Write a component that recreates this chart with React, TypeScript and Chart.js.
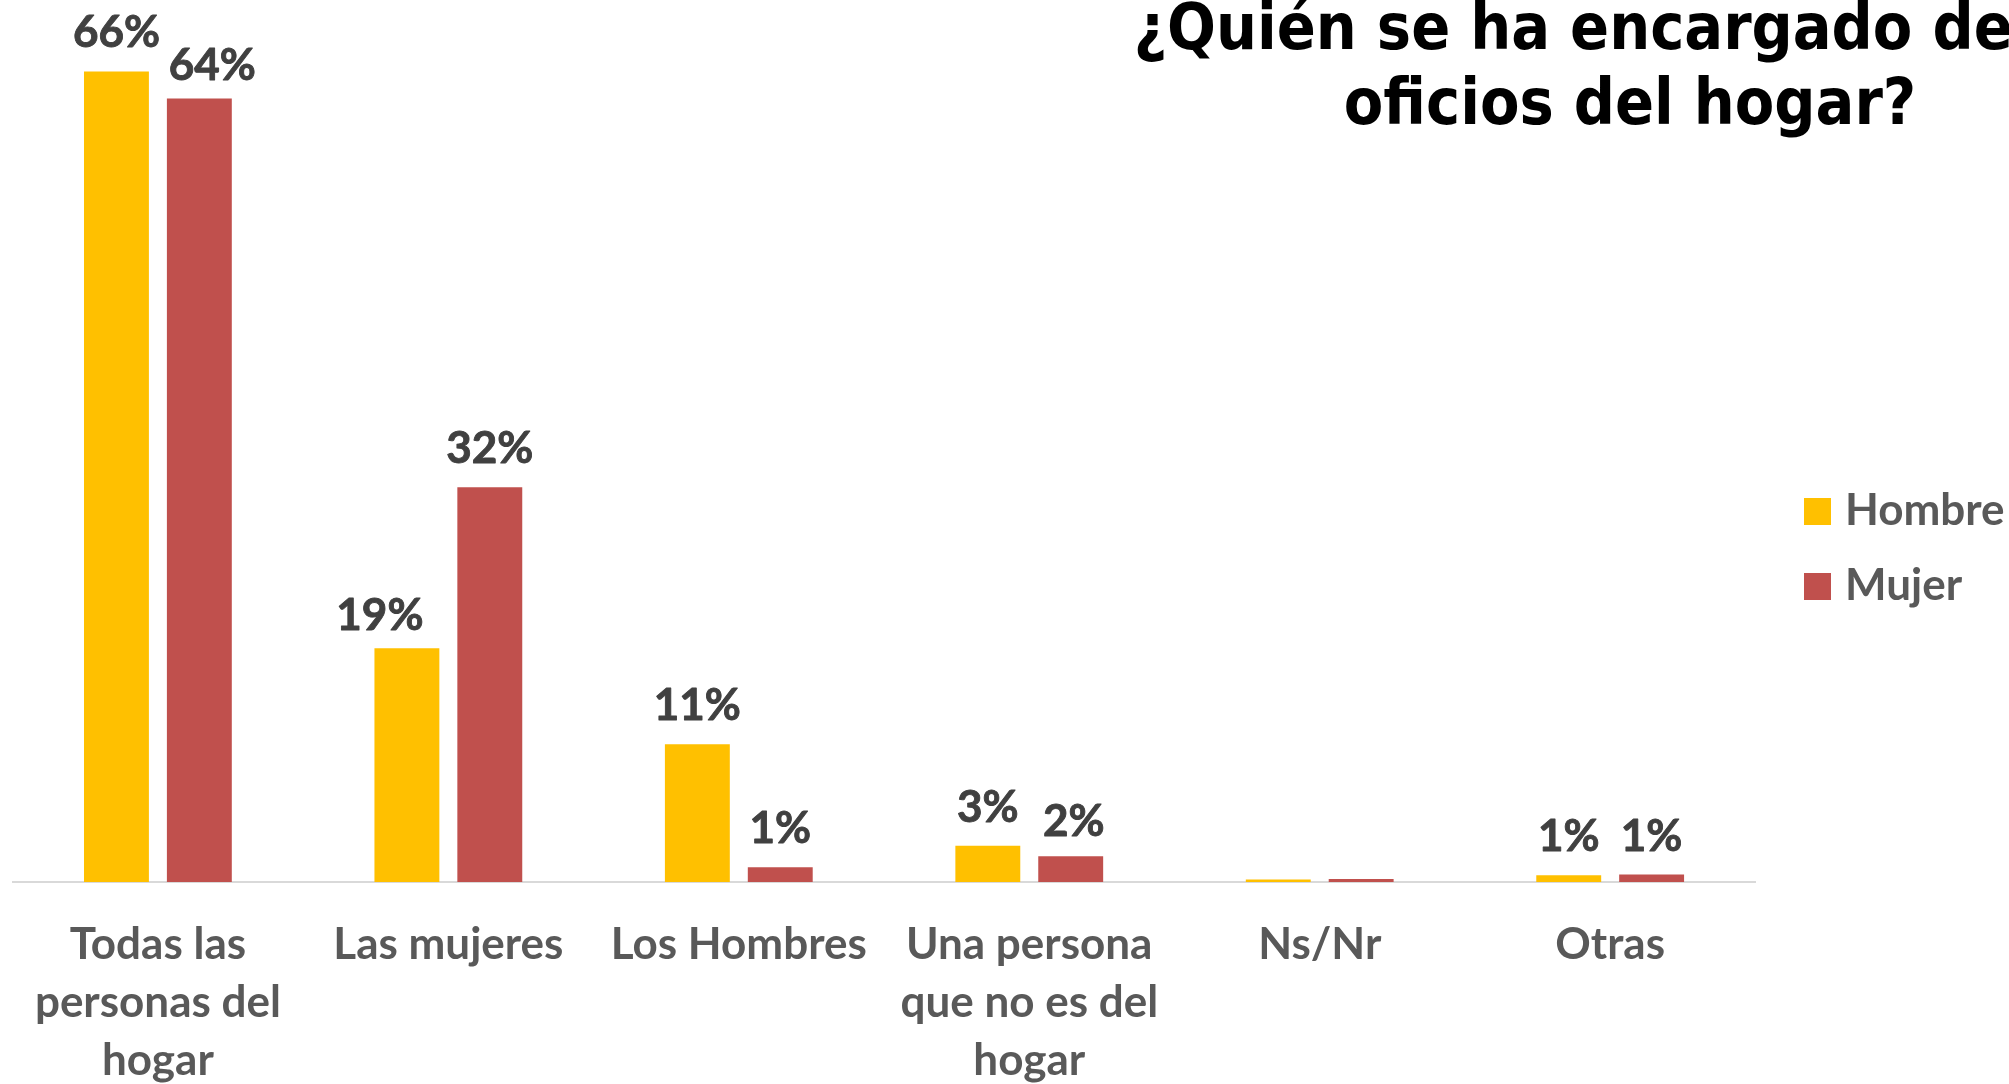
import React, { useEffect, useRef } from "react";
import { Chart, registerables } from "chart.js";

Chart.register(...registerables);

const categories: (string | string[])[] = [
  ["Todas las", "personas del", "hogar"],
  "Las mujeres",
  "Los Hombres",
  ["Una persona", "que no es del", "hogar"],
  "Ns/Nr",
  "Otras",
];
const hombreValues = [65.9, 19.0, 11.2, 2.95, 0.2, 0.55];
const mujerValues = [63.7, 32.1, 1.2, 2.1, 0.25, 0.6];
const seriesNames = ["Hombre", "Mujer"];
const seriesColors = ["#FFC000", "#C0504D"];
const titleLines = ["¿Quién se ha encargado de los", "oficios del hogar?"];
const yMax = 70;

// manual label nudges (layout only): [datasetIndex, dataIndex, dx, dy]
const labelNudges: [number, number, number, number][] = [
  [1, 0, 13, 6],
  [0, 1, -27, 6],
  [1, 3, 3, 4],
];

const LABEL_FONT = "bold 44px Lato";

const dataLabelPlugin = {
  id: "dataLabels",
  afterDatasetsDraw(chart: any) {
    const ctx = chart.ctx;
    ctx.save();
    ctx.font = LABEL_FONT;
    ctx.fillStyle = "#404040";
    ctx.strokeStyle = "#404040";
    ctx.lineWidth = 0.9;
    ctx.lineJoin = "round";
    ctx.textAlign = "center";
    ctx.textBaseline = "alphabetic";
    chart.data.datasets.forEach((ds: any, i: number) => {
      const meta = chart.getDatasetMeta(i);
      meta.data.forEach((bar: any, j: number) => {
        const v = ds.data[j];
        if (v < 0.5) return;
        let dx = 0;
        let dy = 0;
        labelNudges.forEach(([di, ii, nx, ny]) => {
          if (di === i && ii === j) {
            dx = nx;
            dy = ny;
          }
        });
        const t = Math.round(v) + "%";
        const x = bar.x + dx;
        const y = bar.y - 24 + dy;
        ctx.fillText(t, x, y);
        ctx.strokeText(t, x, y);
      });
    });
    ctx.restore();
  },
};

const titleLegendPlugin = {
  id: "titleLegend",
  afterDraw(chart: any) {
    const ctx = chart.ctx;
    ctx.save();
    // title
    ctx.font = "bold 64px 'DejaVu Sans Condensed'";
    ctx.fillStyle = "#000000";
    ctx.textAlign = "center";
    ctx.textBaseline = "alphabetic";
    ctx.fillText(titleLines[0], 1630, 49);
    ctx.fillText(titleLines[1], 1630, 124);
    // legend
    ctx.font = "bold 44px Lato";
    ctx.textAlign = "left";
    chart.data.datasets.forEach((ds: any, i: number) => {
      const top = 498 + i * 75;
      ctx.fillStyle = ds.backgroundColor;
      ctx.fillRect(1804, top, 27, 27);
      ctx.fillStyle = "#595959";
      ctx.fillText(ds.label, 1845, top + 27);
    });
    ctx.restore();
  },
};

export default function App() {
  const ref = useRef<HTMLCanvasElement | null>(null);
  useEffect(() => {
    if (!ref.current) return;
    const chart = new Chart(ref.current, {
      type: "bar",
      data: {
        labels: categories,
        datasets: [
          { label: seriesNames[0], data: hombreValues, backgroundColor: seriesColors[0] },
          { label: seriesNames[1], data: mujerValues, backgroundColor: seriesColors[1] },
        ],
      },
      options: {
        responsive: false,
        animation: false,
        datasets: { bar: { categoryPercentage: 0.5708, barPercentage: 0.783 } },
        layout: { padding: { left: 10.6, right: 253.6, top: 21, bottom: 0 } },
        plugins: { legend: { display: false }, tooltip: { enabled: false }, title: { display: false } },
        scales: {
          x: {
            grid: { display: false, drawTicks: false },
            border: { display: true, color: "#D9D9D9", width: 2 },
            ticks: {
              color: "#595959",
              font: { family: "Lato", weight: "bold", size: 44, lineHeight: 1.32 },
              maxRotation: 0,
              autoSkip: false,
              padding: 34,
            },
            afterFit: (scale: any) => {
              scale.height = 202;
            },
          },
          y: { display: false, min: 0, max: yMax },
        },
      },
      plugins: [dataLabelPlugin, titleLegendPlugin],
    } as any);
    return () => chart.destroy();
  }, []);
  return (
    <div style={{ position: "fixed", left: 0, top: 0, width: 2009, height: 1084, background: "#fff" }}>
      <canvas ref={ref} width={2009} height={1084} style={{ width: 2009, height: 1084, display: "block" }} />
    </div>
  );
}
